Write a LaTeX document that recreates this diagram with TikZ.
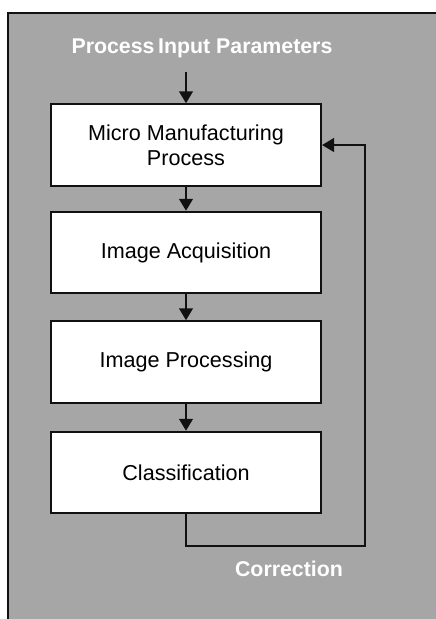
\documentclass[tikz,border=0pt]{standalone}
\usepackage{fontspec}
\setmainfont{Liberation Sans}
\usetikzlibrary{arrows.meta}
\definecolor{FlowGray}{HTML}{A6A6A6}
\definecolor{FlowLine}{HTML}{111111}

\tikzset{
  stagebox/.style={draw=FlowLine,line width=1.5pt,fill=white,minimum width=202.5pt,
    minimum height=61pt,align=center,inner sep=0pt,font=\fontsize{16.2}{19}\selectfont},
  flowarrow/.style={FlowLine,line width=2.2pt,-{Triangle[width=10pt,length=9pt]}},
  graylabel/.style={text=white,font=\bfseries\fontsize{16}{19}\selectfont}
}

\begin{document}
\begin{tikzpicture}[x=0.75pt,y=-0.75pt]
\path[use as bounding box] (0,0) rectangle (436,619);
\fill[FlowGray] (8,13) rectangle (440,625);
\draw[FlowLine,line width=2pt] (8,625) -- (8,13) -- (440,13);
\node[graylabel] (inparams) at (202,48) {Process\,Input Parameters};
\coordinate (intop) at (186,72);
\node[stagebox] (mmp) at (186,145) {Micro Manufacturing\\Process};
\node[stagebox] (acq) at (186,252.5) {Image Acquisition};
\node[stagebox] (proc) at (186,362) {Image Processing};
\node[stagebox] (cls) at (186,472.5) {Classification};
\node[graylabel] (corr) at (289,569) {Correction};
\coordinate (loopcorner) at (365,546);
\draw[flowarrow] (intop) -- (mmp.north);
\draw[flowarrow] (mmp.south) -- (acq.north);
\draw[flowarrow] (acq.south) -- (proc.north);
\draw[flowarrow] (proc.south) -- (cls.north);
\draw[flowarrow] (cls.south) |- (loopcorner) |- (mmp.east);
\end{tikzpicture}
\end{document}
